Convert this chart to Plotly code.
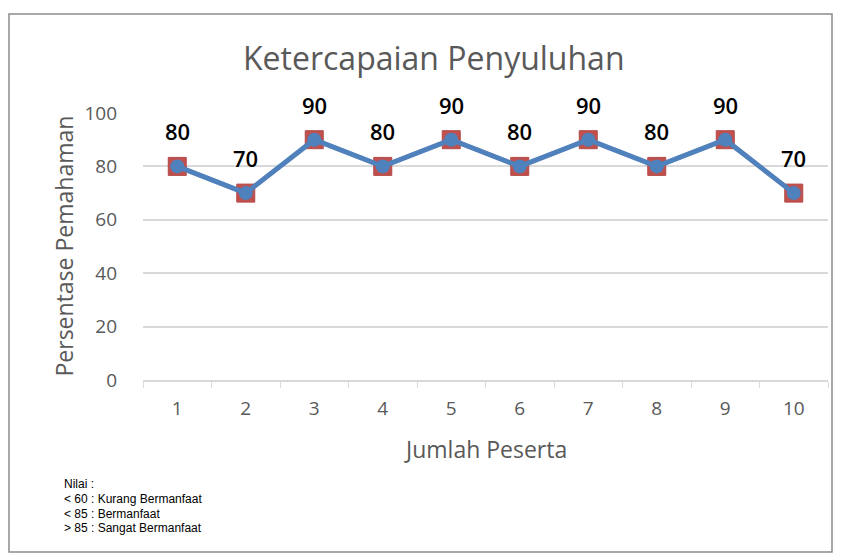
import plotly.graph_objects as go

peserta = ["1", "2", "3", "4", "5", "6", "7", "8", "9", "10"]
nilai = [80, 70, 90, 80, 90, 80, 90, 80, 90, 70]
title_text = "Ketercapaian Penyuluhan"
y_title = "Persentase Pemahaman"
x_title = "Jumlah Peserta"
note_lines = ["Nilai :", "< 60 : Kurang Bermanfaat", "< 85 : Bermanfaat", "> 85 : Sangat Bermanfaat"]

FONT = "Open Sans"
GRAY = "#595959"

# plot area in pixels: left 143, right 828, top 113, bottom 380
PL, PR, PT, PB = 143, 828, 113, 380
def px(x):
    return (x - PL) / (PR - PL)
def py(y):
    return (PB - y) / (PB - PT)

fig = go.Figure()
# Red square series (under)
fig.add_trace(go.Scatter(
    x=peserta, y=nilai, mode="lines+markers",
    line=dict(color="#C0504D", width=4),
    marker=dict(symbol="square", size=18, color="#C0504D",
                line=dict(color="#B24A48", width=1)),
    showlegend=False, cliponaxis=False))
# Blue circle series (over)
fig.add_trace(go.Scatter(
    x=peserta, y=nilai, mode="lines+markers",
    line=dict(color="#4F81BD", width=5),
    marker=dict(symbol="circle", size=14, color="#4F81BD"),
    showlegend=False, cliponaxis=False))

annotations = []
for i, yv in enumerate(nilai):
    # category axes position annotations by category index
    annotations.append(dict(
        x=i, y=yv, xref="x", yref="y", text=str(yv), showarrow=False,
        yshift=35, font=dict(family=FONT, size=22, color="black", weight=600)))

annotations.append(dict(
    x=px(434), y=py(58), xref="paper", yref="paper",
    text=title_text, showarrow=False, xanchor="center", yanchor="middle",
    font=dict(family=FONT, size=32, color=GRAY)))
annotations.append(dict(
    x=px(63), y=0.5, xref="paper", yref="paper", textangle=-90,
    text=y_title, showarrow=False, xanchor="center", yanchor="middle",
    font=dict(family=FONT, size=23, color=GRAY)))
annotations.append(dict(
    x=0.5, y=py(449), xref="paper", yref="paper",
    text=x_title, showarrow=False, xanchor="center", yanchor="middle",
    font=dict(family=FONT, size=23, color=GRAY)))
for i, line in enumerate(note_lines):
    annotations.append(dict(
        x=px(62), y=py(484 + 14.8 * i), xref="paper", yref="paper",
        text=line, showarrow=False, xanchor="left", yanchor="middle",
        align="left", font=dict(family="Liberation Sans, Arial", size=12, color="black")))

fig.update_layout(
    width=843, height=555,
    margin=dict(l=PL, r=843 - PR, t=PT, b=555 - PB),
    paper_bgcolor="white", plot_bgcolor="white",
    annotations=annotations,
    shapes=[dict(type="rect", xref="paper", yref="paper",
                 x0=px(9), x1=px(832), y0=py(552), y1=py(14),
                 line=dict(color="#8C8C8C", width=1.5), fillcolor="rgba(0,0,0,0)",
                 layer="below")],
)
fig.update_xaxes(
    type="category", categoryorder="array", categoryarray=peserta,
    range=[-0.5, 9.5], tickson="boundaries", ticks="outside", ticklen=6,
    tickcolor="#D9D9D9", showline=True, linecolor="#D9D9D9", linewidth=1.5,
    showgrid=False, zeroline=False, ticklabelstandoff=10,
    tickfont=dict(family=FONT, size=19, color=GRAY))
fig.update_yaxes(
    range=[0, 100], dtick=20, showgrid=True, gridcolor="#D9D9D9", gridwidth=1.5,
    zeroline=False, showline=False, ticks="", ticklabelstandoff=25,
    tickfont=dict(family=FONT, size=19, color=GRAY))

fig.write_html("out.html", config={"displayModeBar": False},
               post_script="document.body.style.margin='0px';")
